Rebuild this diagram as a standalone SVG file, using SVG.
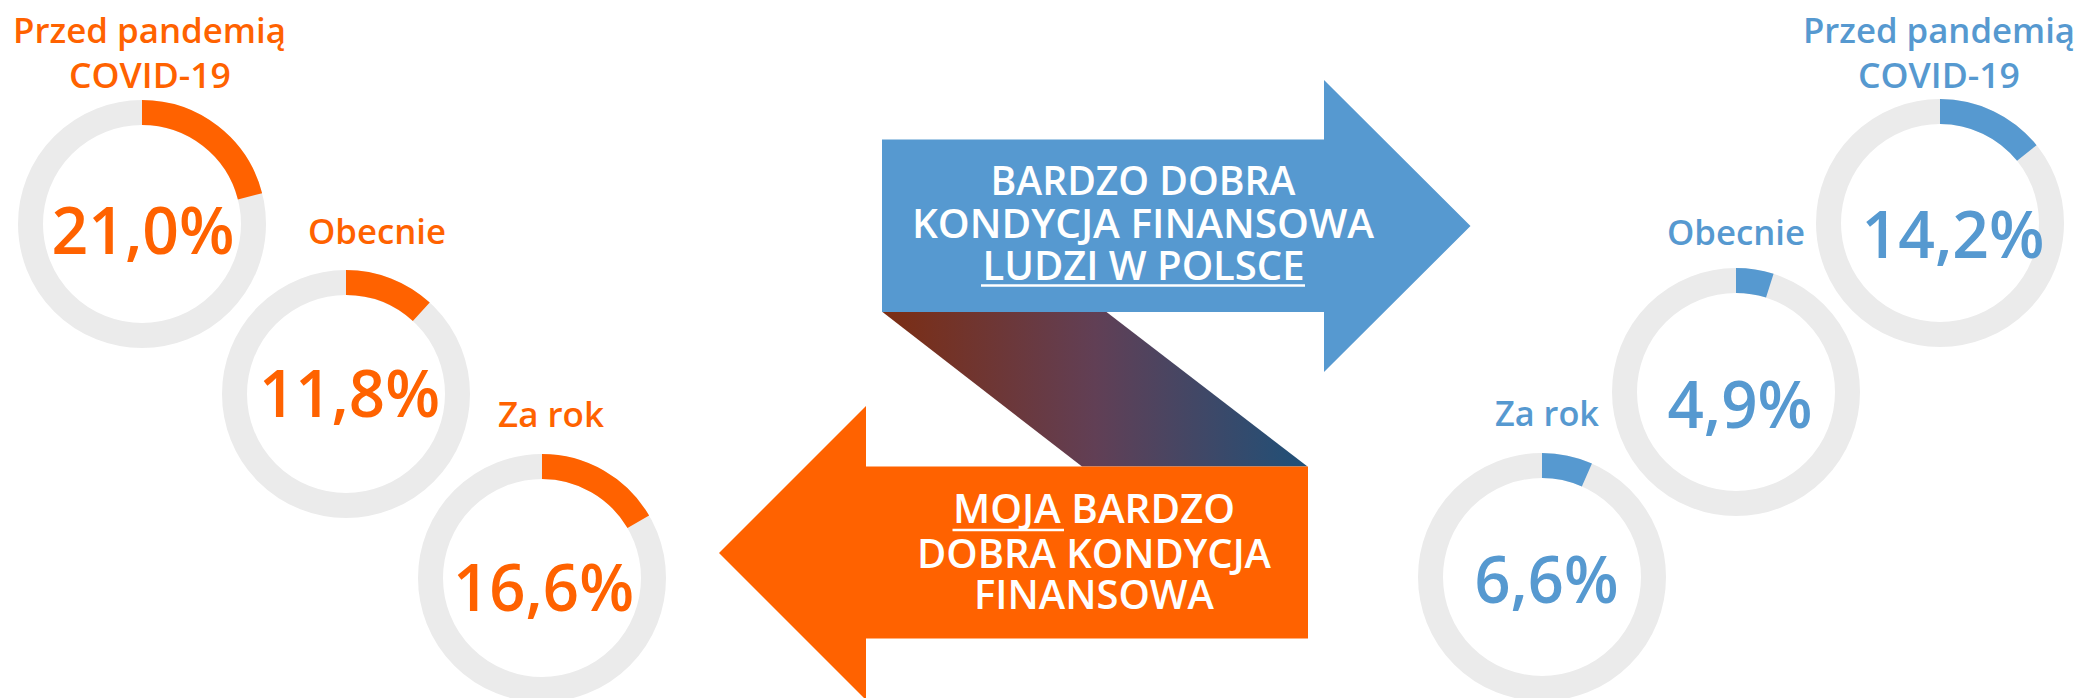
<svg xmlns="http://www.w3.org/2000/svg" width="2081" height="698" viewBox="0 0 2081 698">
<defs>
<linearGradient id="ribbon" gradientUnits="userSpaceOnUse" x1="882" y1="0" x2="1308" y2="0">
<stop offset="0" stop-color="#7c2d12"/>
<stop offset="0.5" stop-color="#613f55"/>
<stop offset="1" stop-color="#1f5078"/>
</linearGradient>
<style>
.ring{fill:none;stroke:#ebebeb;stroke-width:25}
.arcO{fill:none;stroke:#ff6200;stroke-width:25}
.arcB{fill:none;stroke:#5699d0;stroke-width:25}
.lbl{font-family:"Open Sans","Liberation Sans",sans-serif;font-weight:600;font-size:35px;text-anchor:middle}
.pct{font-family:"Open Sans","Liberation Sans",sans-serif;font-weight:600;font-size:65px;text-anchor:middle}
.o{fill:#ff6200}
.b{fill:#5699d0}
.arr{font-family:"Open Sans","Liberation Sans",sans-serif;font-weight:600;font-size:40px;fill:#ffffff;text-anchor:middle}
.ul{stroke:#ffffff;stroke-width:2.6}
</style>
</defs>
<rect width="2081" height="698" fill="#ffffff"/>

<g id="connectors">
<polygon points="882.5,312 1106.5,312 1307.5,466.5 1082,466.5" fill="url(#ribbon)"/>
</g>

<g id="arrow-polska">
<polygon points="882,139.5 1324,139.5 1324,80 1470.5,226 1324,372 1324,312 882,312" fill="#5699d0"/>
<text class="arr" x="1143" y="195" textLength="305" lengthAdjust="spacingAndGlyphs">BARDZO DOBRA</text>
<text class="arr" x="1143" y="238" textLength="462" lengthAdjust="spacingAndGlyphs">KONDYCJA FINANSOWA</text>
<text class="arr" x="1143.5" y="280" textLength="322" lengthAdjust="spacingAndGlyphs">LUDZI W POLSCE</text>
<line class="ul" x1="981" y1="285.5" x2="1305" y2="285.5"/>
</g>

<g id="arrow-moja">
<polygon points="1308,466.5 866,466.5 866,406 719,553 866,700 866,638.5 1308,638.5" fill="#ff6200"/>
<text class="arr" x="1094" y="523" textLength="282" lengthAdjust="spacingAndGlyphs">MOJA BARDZO</text>
<line class="ul" x1="952.5" y1="530" x2="1064" y2="530"/>
<text class="arr" x="1094" y="567.5" textLength="354" lengthAdjust="spacingAndGlyphs">DOBRA KONDYCJA</text>
<text class="arr" x="1094" y="609" textLength="240" lengthAdjust="spacingAndGlyphs">FINANSOWA</text>
</g>

<g id="moja-przed">
<text class="lbl o" x="149.5" y="43" textLength="273" lengthAdjust="spacingAndGlyphs">Przed pandemią</text>
<text class="lbl o" x="150" y="88" textLength="162" lengthAdjust="spacingAndGlyphs">COVID-19</text>
<circle class="ring" cx="142" cy="224" r="111.5"/>
<path class="arcO" d="M142,112.5 A111.5,111.5 0 0 1 250,196.3"/>
<text class="pct o" x="143" y="254" textLength="183" lengthAdjust="spacingAndGlyphs">21,0%</text>
</g>

<g id="moja-obecnie">
<text class="lbl o" x="377" y="244" textLength="138" lengthAdjust="spacingAndGlyphs">Obecnie</text>
<circle class="ring" cx="346" cy="394" r="111.5"/>
<path class="arcO" d="M346,282.5 A111.5,111.5 0 0 1 421.3,311.8"/>
<text class="pct o" x="349.5" y="417" textLength="181" lengthAdjust="spacingAndGlyphs">11,8%</text>
</g>

<g id="moja-zarok">
<text class="lbl o" x="551" y="427" textLength="106" lengthAdjust="spacingAndGlyphs">Za rok</text>
<circle class="ring" cx="542" cy="578" r="111.5"/>
<path class="arcO" d="M542,466.5 A111.5,111.5 0 0 1 638.3,521.8"/>
<text class="pct o" x="543.5" y="611" textLength="181" lengthAdjust="spacingAndGlyphs">16,6%</text>
</g>

<g id="polska-przed">
<text class="lbl b" x="1939" y="43" textLength="272" lengthAdjust="spacingAndGlyphs">Przed pandemią</text>
<text class="lbl b" x="1939" y="88" textLength="162" lengthAdjust="spacingAndGlyphs">COVID-19</text>
<circle class="ring" cx="1940" cy="223" r="111.5"/>
<path class="arcB" d="M1940,111.5 A111.5,111.5 0 0 1 2026.8,153"/>
<text class="pct b" x="1953" y="258" textLength="183" lengthAdjust="spacingAndGlyphs">14,2%</text>
</g>

<g id="polska-obecnie">
<text class="lbl b" x="1736" y="245" textLength="138" lengthAdjust="spacingAndGlyphs">Obecnie</text>
<circle class="ring" cx="1736" cy="392" r="111.5"/>
<path class="arcB" d="M1736,280.5 A111.5,111.5 0 0 1 1769.8,285.7"/>
<text class="pct b" x="1740" y="428" textLength="145" lengthAdjust="spacingAndGlyphs">4,9%</text>
</g>

<g id="polska-zarok">
<text class="lbl b" x="1547" y="426" textLength="104" lengthAdjust="spacingAndGlyphs">Za rok</text>
<circle class="ring" cx="1542" cy="577" r="111.5"/>
<path class="arcB" d="M1542,465.5 A111.5,111.5 0 0 1 1586.9,475"/>
<text class="pct b" x="1546.5" y="603" textLength="144" lengthAdjust="spacingAndGlyphs">6,6%</text>
</g>
</svg>
